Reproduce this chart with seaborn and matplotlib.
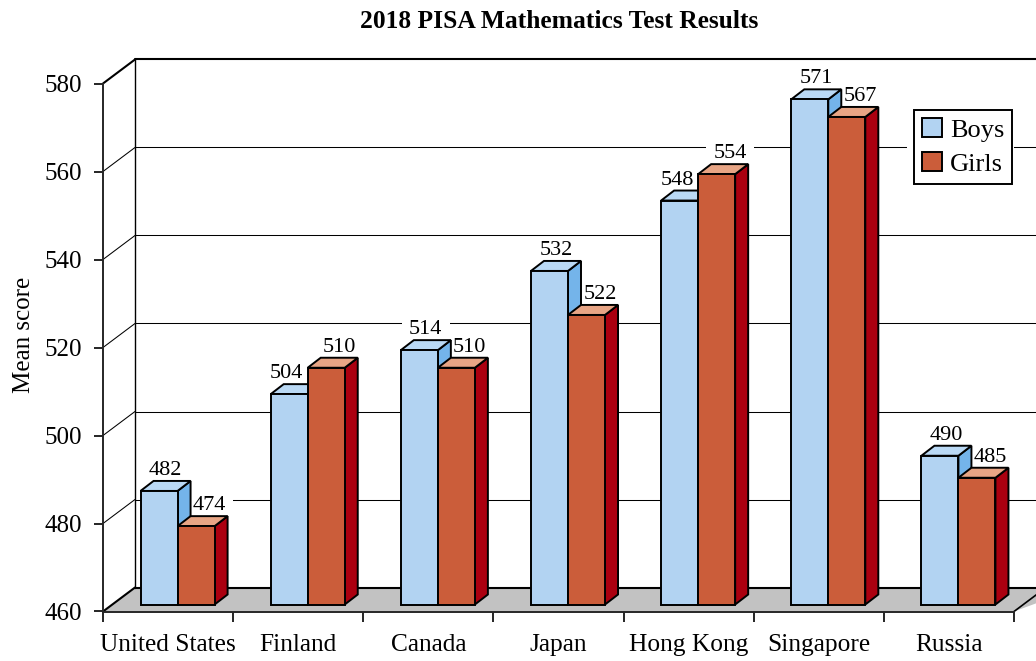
import numpy as np
import pandas as pd
import matplotlib
matplotlib.use('Agg')
import matplotlib.pyplot as plt
from matplotlib.patches import Polygon, Rectangle
import seaborn as sns

# data
countries = ['United States', 'Finland', 'Canada', 'Japan', 'Hong Kong', 'Singapore', 'Russia']
boys = [482, 504, 514, 532, 548, 571, 490]
girls = [474, 510, 510, 522, 554, 567, 485]
y_ticks = [460, 480, 500, 520, 540, 560, 580]

# colours: front, side, top
blue = ['#B2D3F2', '#74B4EA', '#BAD9F5']
red = ['#CB5D3A', '#AB0010', '#E8A585']
floor_col = '#C2C2C2'

W, H = 1036, 661
ax_left, ax_right, ax_top, ax_bot = 103, 1014, 83.5, 611.5
px_x = 7 / (ax_right - ax_left)         # categories per pixel
px_y = 120 / (ax_bot - ax_top)          # score units per pixel

# the drawn bars stand a little above the score they are labelled with
bar_lift = 5.4
bar_base = 460 + 7 * px_y

df = pd.DataFrame({
    'Country': countries * 2,
    'Gender': ['Boys'] * 7 + ['Girls'] * 7,
    'Score': boys + girls,
})

sns.set_theme(style='white')
plt.rcParams['font.family'] = ['Liberation Serif', 'DejaVu Serif']
plt.rcParams['axes.linewidth'] = 1.4

fig = plt.figure(figsize=(W / 100, H / 100), dpi=100)
ax = fig.add_axes([ax_left / W, 1 - ax_bot / H, (ax_right - ax_left) / W, (ax_bot - ax_top) / H])

sns.barplot(data=df, x='Country', y='Score', hue='Gender', order=countries,
            palette=[blue[0], red[0]], width=0.569, saturation=1,
            edgecolor='black', linewidth=1.4, ax=ax, zorder=3)

ax.set_xlim(-0.5, 6.5)
ax.set_ylim(460, 580)

# back wall and floor
wall_x = 32 * px_x
wall_y = 24 * px_y
x0, x1 = -0.5, 6.5
far = 7.0
ax.add_patch(Polygon([(x0, 460), (x0 + wall_x, 460 + wall_y), (far, 460 + wall_y), (x1, 460)],
                     closed=True, facecolor=floor_col, edgecolor='none', clip_on=False, zorder=0.5))
ax.plot([x1, x1 + wall_x], [460, 460 + wall_y], color='black', lw=1.2, clip_on=False, zorder=0.8)
for t in y_ticks:
    lw = 1.5 if t in (460, 580) else 0.75
    ax.plot([x0, x0 + wall_x], [t, t + wall_y], color='black', lw=lw, clip_on=False, zorder=1)
    ax.plot([x0 + wall_x, far], [t + wall_y, t + wall_y], color='black', lw=lw, clip_on=False, zorder=1)
ax.plot([x0 + wall_x, x0 + wall_x], [460 + wall_y, 580 + wall_y], color='black', lw=1.0,
        clip_on=False, zorder=1)

# 3d faces of the bars
dx = 13 * px_x
dy = 10 * px_y
shift = 9.5 * px_x
renderer = fig.canvas.get_renderer()
to_data = ax.transData.inverted()
for n, (cont, cols, vals) in enumerate(zip(ax.containers, [blue, red], [boys, girls])):
    z = 3 + n
    for i, (bar, v) in enumerate(zip(cont, vals)):
        bar.set_x(bar.get_x() + shift)
        bar.set_y(bar_base)
        bar.set_height(v + bar_lift - bar_base)
        bar.set_zorder(z + 0.5)
        l, w = bar.get_x(), bar.get_width()
        b, t = bar.get_y(), bar.get_y() + bar.get_height()
        r = l + w
        ax.add_patch(Polygon([(r, b), (r + dx, b + dy), (r + dx, t + dy), (r, t)], closed=True,
                             facecolor=cols[1], edgecolor='black', lw=1.4, zorder=z, clip_on=False))
        ax.add_patch(Polygon([(l, t), (l + dx, t + dy), (r + dx, t + dy), (r, t)], closed=True,
                             facecolor=cols[2], edgecolor='black', lw=1.4, zorder=z, clip_on=False))
        # value labels sit over the back edge of the top face
        if n == 0:
            nudge = -9 if girls[i] > boys[i] else 0
        else:
            nudge = 7
        txt = ax.text(l + w / 2 + dx / 2 + nudge * px_x, t + dy + 6 * px_y, str(v), ha='center',
                      va='baseline', fontsize=16, color='black', zorder=7)
        # white gap in the grid behind the label
        ext = txt.get_window_extent(renderer)
        (ex0, ey0), (ex1, ey1) = to_data.transform([(ext.x0 - 7, ext.y0 - 2), (ext.x1 + 7, ext.y1 + 2)])
        ax.add_patch(Rectangle((ex0, ey0), ex1 - ex0, ey1 - ey0, facecolor='white', edgecolor='none', zorder=1.5))

# axes
sns.despine(ax=ax, top=True, right=True)
ax.set_xticks(range(7), countries)
ax.set_xticks(np.arange(-0.5, 7), minor=True)
ax.tick_params(axis='x', which='major', length=0, pad=16.5, labelsize=18.3, colors='black')
ax.tick_params(axis='x', which='minor', length=7.2, width=1.2, color='black', bottom=True)
ax.set_yticks(y_ticks)
ax.tick_params(axis='y', length=6.5, width=1.2, pad=8.5, labelsize=18, colors='black', left=True)
ax.set_xlabel('')
ax.set_ylabel('Mean score', fontsize=18, color='black')
ax.yaxis.set_label_coords((35 - ax_left) / (ax_right - ax_left), (ax_bot - 335) / (ax_bot - ax_top))
for s in ax.spines.values():
    s.set_zorder(2)

# legend, with a white margin that cuts the grid line
lx0, ly0 = -0.5 + (907 - ax_left) * px_x, 460 + (ax_bot - 160) * px_y
ax.add_patch(Rectangle((lx0, ly0), 120 * px_x, 24 * px_y, facecolor='white', edgecolor='none', zorder=1.5))
leg = ax.legend(loc='upper left', bbox_to_anchor=((914 - ax_left) / (ax_right - ax_left), (ax_bot - 110) / (ax_bot - ax_top)),
                borderaxespad=0, fontsize=19, frameon=True, fancybox=False, framealpha=1,
                edgecolor='black', title=None, handlelength=0.76, handleheight=0.76, handletextpad=0.3,
                labelspacing=0.38, borderpad=0.3, labelcolor='black')
leg.get_frame().set_linewidth(1.4)
leg.set_zorder(8)

fig.text(559 / W, 1 - 21.5 / H, '2018 PISA Mathematics Test Results', ha='center', va='center',
         fontsize=18.4, fontweight='bold', color='black')

fig.savefig('out.png', dpi=100, facecolor='white')
